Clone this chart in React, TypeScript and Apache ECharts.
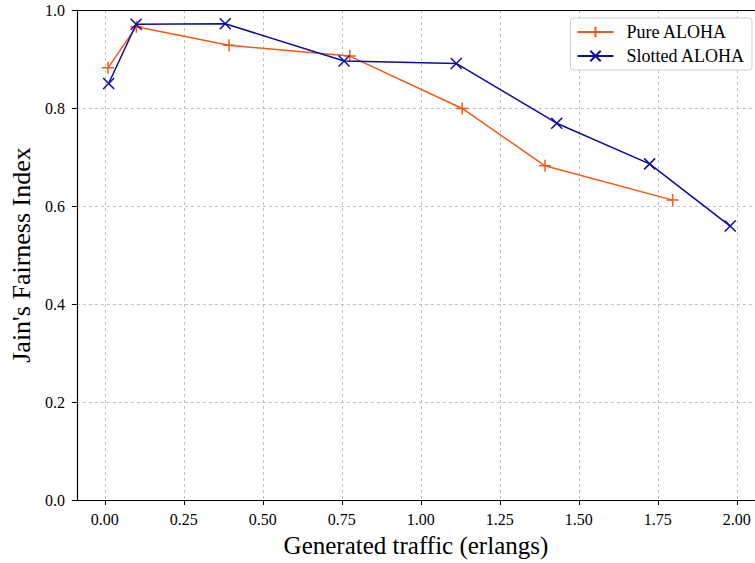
import React, { useEffect, useRef } from "react";
import * as echarts from "echarts";

const pureX = [0.01, 0.1, 0.393, 0.775, 1.131, 1.393, 1.797];
const pureY = [0.882, 0.966, 0.928, 0.906, 0.799, 0.682, 0.612];
const slottedX = [0.012, 0.099, 0.381, 0.757, 1.112, 1.43, 1.724, 1.979];
const slottedY = [0.85, 0.971, 0.972, 0.896, 0.891, 0.769, 0.686, 0.559];
const xTicks = [0, 0.25, 0.5, 0.75, 1, 1.25, 1.5, 1.75, 2];

const ORANGE = "#f25a14";
const BLUE = "#0c0c9e";
const FONT = "Liberation Serif";

export default function App() {
  const ref = useRef<HTMLDivElement>(null);
  useEffect(() => {
    if (!ref.current) return;
    const chart = echarts.init(ref.current, undefined, { renderer: "svg" });
    const plus = "path://M0,5L10,5M5,0L5,10";
    const cross = "path://M0,0L10,10M10,0L0,10";
    chart.setOption({
      animation: false,
      backgroundColor: "#ffffff",
      grid: { left: 72, top: 10, right: 0, bottom: 63, containLabel: false },
      legend: {
        orient: "vertical",
        right: 3,
        top: 18,
        backgroundColor: "#ffffff",
        borderColor: "#cccccc",
        borderWidth: 1,
        borderRadius: 3,
        padding: [5, 7, 5, 6],
        itemGap: 6,
        itemWidth: 36,
        itemHeight: 13,
        textStyle: { fontFamily: FONT, fontSize: 18, color: "#000", padding: [0, 0, 0, 8] },
        data: ["Pure ALOHA", "Slotted ALOHA"],
      },
      xAxis: [
        {
          type: "value",
          min: -0.0885,
          max: 2.0575,
          name: "Generated traffic (erlangs)",
          nameLocation: "middle",
          nameGap: 33,
          nameTextStyle: { fontFamily: FONT, fontSize: 25, color: "#000" },
          axisLine: { show: true, onZero: false, lineStyle: { color: "#000", width: 1.2 } },
          axisTick: { show: true, length: 5, customValues: xTicks, lineStyle: { color: "#000" } },
          axisLabel: {
            customValues: xTicks,
            formatter: (v: number) => v.toFixed(2),
            fontFamily: FONT,
            fontSize: 16,
            color: "#000",
            margin: 11,
          },
          splitLine: { show: true, lineStyle: { color: "#b0b0b0", type: [3, 3], width: 0.8 } },
        },
        {
          type: "value",
          position: "top",
          min: -0.0885,
          max: 2.0575,
          axisLine: { show: true, onZero: false, lineStyle: { color: "#000", width: 1.2 } },
          axisTick: { show: false },
          axisLabel: { show: false },
          splitLine: { show: false },
        },
      ],
      yAxis: {
        type: "value",
        min: 0,
        max: 1,
        interval: 0.2,
        name: "Jain's Fairness Index",
        nameLocation: "middle",
        nameGap: 34,
        nameTextStyle: { fontFamily: FONT, fontSize: 26, color: "#000" },
        axisLine: { show: true, onZero: false, lineStyle: { color: "#000", width: 1.2 } },
        axisTick: { show: true, length: 5, lineStyle: { color: "#000" } },
        axisLabel: {
          formatter: (v: number) => v.toFixed(1),
          fontFamily: FONT,
          fontSize: 16,
          color: "#000",
          margin: 12,
        },
        splitLine: { show: true, lineStyle: { color: "#b0b0b0", type: [3, 3], width: 0.8 } },
      },
      series: [
        {
          name: "Pure ALOHA",
          type: "line",
          xAxisIndex: 0,
          data: pureX.map((x, i) => [x, pureY[i]]),
          symbol: plus,
          symbolSize: 12,
          showAllSymbol: true,
          color: ORANGE,
          lineStyle: { color: ORANGE, width: 1.5 },
          itemStyle: { color: ORANGE, borderColor: ORANGE, borderWidth: 1.5 },
          z: 3,
        },
        {
          name: "Slotted ALOHA",
          type: "line",
          xAxisIndex: 0,
          data: slottedX.map((x, i) => [x, slottedY[i]]),
          symbol: cross,
          symbolSize: 11,
          showAllSymbol: true,
          color: BLUE,
          lineStyle: { color: BLUE, width: 1.5 },
          itemStyle: { color: BLUE, borderColor: BLUE, borderWidth: 1.5 },
          z: 4,
        },
      ],
    });
    return () => chart.dispose();
  }, []);
  return (
    <div
      ref={ref}
      style={{ position: "fixed", left: 0, top: 0, width: 755, height: 563, background: "#fff" }}
    />
  );
}
